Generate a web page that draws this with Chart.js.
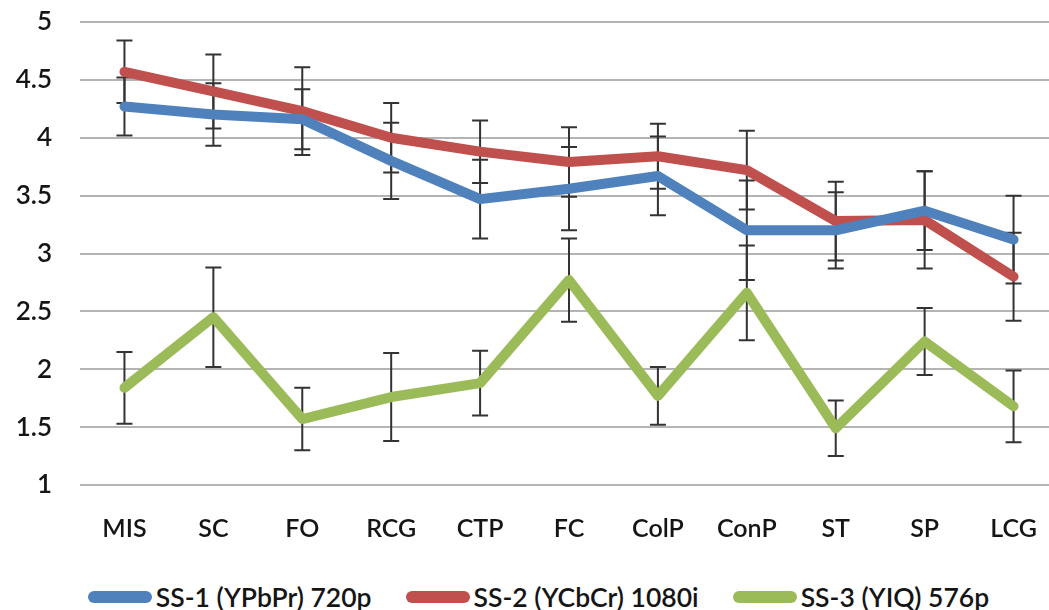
<!DOCTYPE html>
<html lang="en">
<head>
<meta charset="UTF-8">
<title>SS comparison</title>
<script src="https://cdn.jsdelivr.net/npm/chart.js"></script>
<style>
  * { margin: 0; padding: 0; box-sizing: border-box; }
  html, body { width: 1049px; height: 610px; overflow: hidden; background: #fff; }
  .wrap { position: relative; width: 1058px; height: 560px; }
  #legend { position: absolute; left: 0; top: 580px; width: 1077px; display: flex; justify-content: center;
            font-family: Lato, 'Open Sans', sans-serif; font-size: 26.5px; font-weight: 600; color: #151515; line-height: 34px; }
  .item { display: flex; align-items: center; margin: 0 17px; }
  .swatch { width: 64px; height: 12px; border-radius: 6px; margin-right: 4px; }
</style>
</head>
<body>
<div class="wrap"><canvas id="chart" width="1058" height="560"></canvas></div>
<div id="legend"></div>
<script>
const categories = ['MIS', 'SC', 'FO', 'RCG', 'CTP', 'FC', 'ColP', 'ConP', 'ST', 'SP', 'LCG'];
const seriesNames = ['SS-1 (YPbPr) 720p', 'SS-2 (YCbCr) 1080i', 'SS-3 (YIQ) 576p'];
const seriesColors = ['#4f81bd', '#c0504d', '#9bbb59'];

const ss1 = [4.27, 4.20, 4.16, 3.80, 3.47, 3.56, 3.67, 3.20, 3.20, 3.37, 3.12];
const ss1Err = [0.25, 0.27, 0.26, 0.33, 0.34, 0.36, 0.34, 0.43, 0.33, 0.34, 0.38];
const ss2 = [4.57, 4.40, 4.23, 4.00, 3.88, 3.79, 3.84, 3.72, 3.28, 3.29, 2.80];
const ss2Err = [0.27, 0.32, 0.38, 0.30, 0.27, 0.30, 0.28, 0.34, 0.34, 0.42, 0.38];
const ss3 = [1.84, 2.45, 1.57, 1.76, 1.88, 2.77, 1.77, 2.66, 1.49, 2.24, 1.68];
const ss3Err = [0.31, 0.43, 0.27, 0.38, 0.28, 0.36, 0.25, 0.41, 0.24, 0.29, 0.31];

const yMin = 1, yMax = 5, yStep = 0.5;

const values = [ss1, ss2, ss3];
const errors = [ss1Err, ss2Err, ss3Err];

// error bars drawn from the errors arrays through the y scale
const errorBars = {
  id: 'errorBars',
  beforeDatasetsDraw(chart) {
    const ctx = chart.ctx;
    const y = chart.scales.y;
    ctx.save();
    ctx.strokeStyle = '#333';
    ctx.lineWidth = 2;
    chart.data.datasets.forEach((ds, di) => {
      const meta = chart.getDatasetMeta(di);
      meta.data.forEach((pt, i) => {
        const v = ds.data[i], e = errors[di][i];
        const top = y.getPixelForValue(v + e);
        const bot = y.getPixelForValue(v - e);
        ctx.beginPath();
        ctx.moveTo(pt.x, top); ctx.lineTo(pt.x, bot);
        ctx.moveTo(pt.x - 8, top); ctx.lineTo(pt.x + 8, top);
        ctx.moveTo(pt.x - 8, bot); ctx.lineTo(pt.x + 8, bot);
        ctx.stroke();
      });
    });
    ctx.restore();
  }
};

const chart = new Chart(document.getElementById('chart'), {
  type: 'line',
  data: {
    labels: categories,
    datasets: values.map((d, i) => ({
      label: seriesNames[i],
      data: d,
      borderColor: seriesColors[i],
      backgroundColor: seriesColors[i],
      borderWidth: 10,
      borderJoinStyle: 'round',
      borderCapStyle: 'round',
      pointRadius: 0,
      tension: 0
    }))
  },
  options: {
    responsive: false,
    animation: false,
    layout: { autoPadding: false, padding: { top: 22, right: 0, left: 0, bottom: 0 } },
    plugins: { legend: { display: false }, tooltip: { enabled: false } },
    scales: {
      x: {
        offset: true,
        grid: { display: false },
        border: { display: false },
        ticks: { color: '#151515', font: { family: 'Lato', size: 25, weight: 600 }, padding: 21, maxRotation: 0 },
        afterFit(s) { s.height = 75; }
      },
      y: {
        min: yMin, max: yMax,
        // transparent tick marks push the labels left without adding top padding
        grid: { color: '#b4b4b4', lineWidth: 2, drawTicks: true, tickLength: 26, tickColor: 'rgba(0,0,0,0)' },
        border: { display: false },
        ticks: { stepSize: yStep, color: '#151515', font: { family: 'Lato', size: 26, weight: 600 }, padding: 2,
                 callback: v => String(v) },
        afterFit(s) { s.width = 80; }
      }
    }
  },
  plugins: [errorBars]
});

const legend = document.getElementById('legend');
seriesNames.forEach((name, i) => {
  const item = document.createElement('div');
  item.className = 'item';
  item.innerHTML = '<span class="swatch" style="background:' + seriesColors[i] + '"></span><span>' + name + '</span>';
  legend.appendChild(item);
});
</script>
</body>
</html>
